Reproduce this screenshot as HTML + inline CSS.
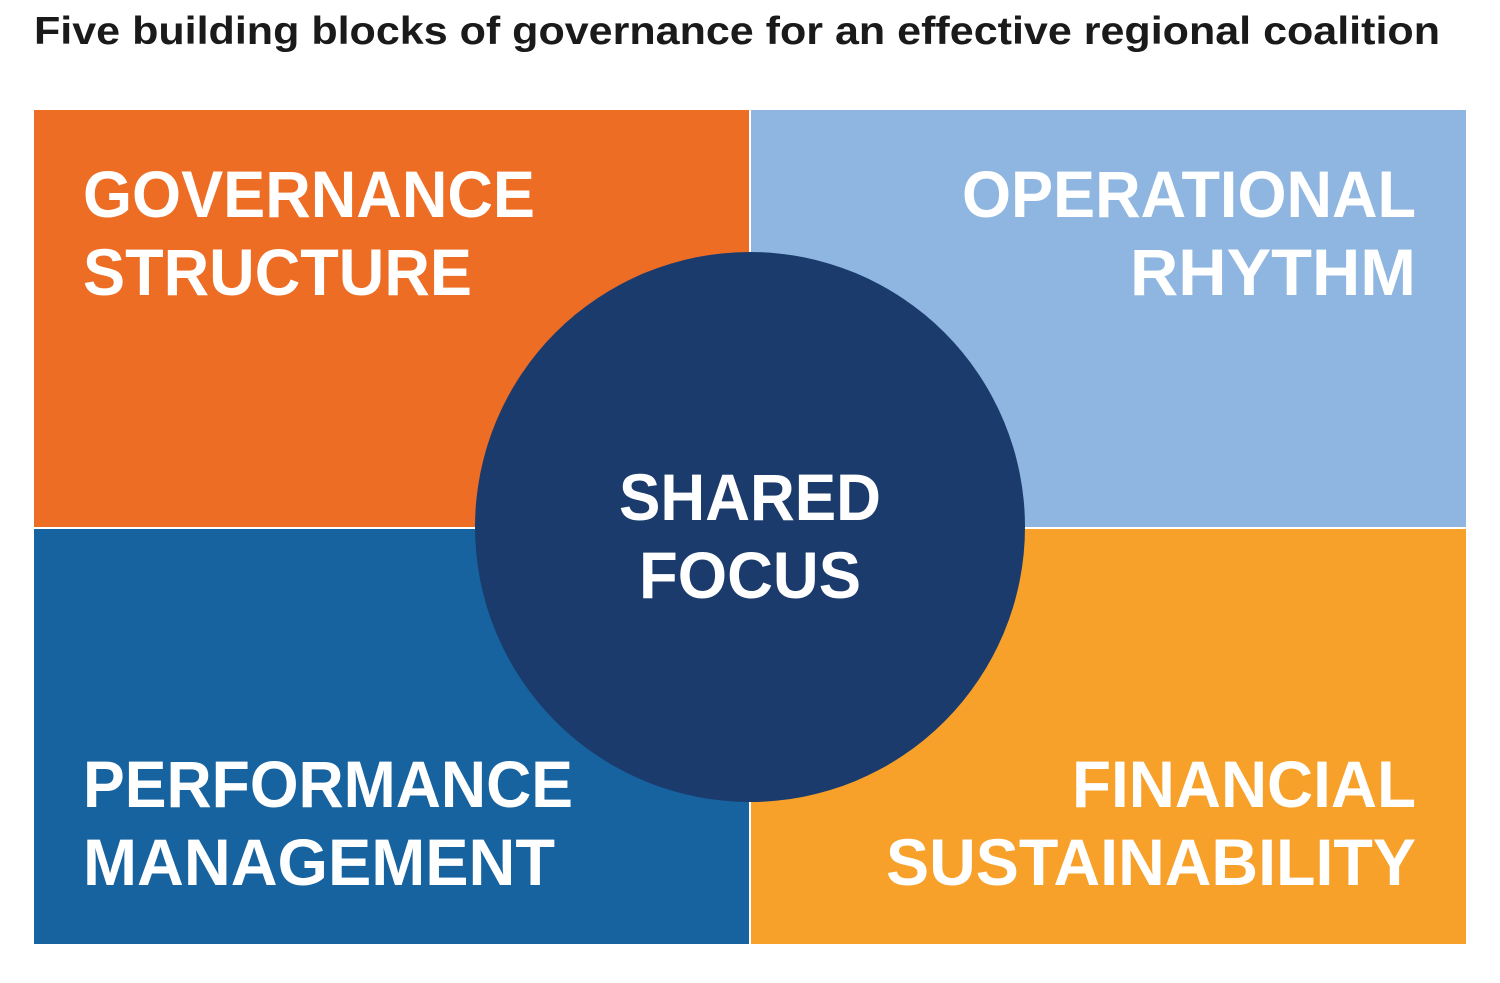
<!DOCTYPE html>
<html><head><meta charset="utf-8"><style>
html,body{margin:0;padding:0;background:#fff;}
svg{display:block}
text{font-family:"Liberation Sans",Arial,sans-serif;}
</style></head><body>
<svg width="1500" height="983" viewBox="0 0 1500 983" xmlns="http://www.w3.org/2000/svg">
<rect width="1500" height="983" fill="#fff"/>
<text x="34" y="44" font-size="39" font-weight="bold" fill="#1a1a1a" textLength="1406" lengthAdjust="spacingAndGlyphs">Five building blocks of governance for an effective regional coalition</text>
<rect x="34" y="110" width="715" height="417" fill="#EE6D25"/>
<rect x="751" y="110" width="715" height="417" fill="#8FB6E1"/>
<rect x="34" y="529" width="715" height="415" fill="#1663A0"/>
<rect x="751" y="529" width="715" height="415" fill="#F7A12A"/>
<circle cx="750" cy="527" r="275" fill="#1B3B6D"/>
<g fill="#fff" font-weight="bold" font-size="66">
<text x="83" y="217" textLength="452" lengthAdjust="spacingAndGlyphs">GOVERNANCE</text>
<text x="83" y="295" textLength="389" lengthAdjust="spacingAndGlyphs">STRUCTURE</text>
<text x="1416" y="217" text-anchor="end" textLength="454" lengthAdjust="spacingAndGlyphs">OPERATIONAL</text>
<text x="1416" y="295" text-anchor="end" textLength="286" lengthAdjust="spacingAndGlyphs">RHYTHM</text>
<text x="83" y="807" textLength="490" lengthAdjust="spacingAndGlyphs">PERFORMANCE</text>
<text x="83" y="885" textLength="472" lengthAdjust="spacingAndGlyphs">MANAGEMENT</text>
<text x="1416" y="807" text-anchor="end" textLength="344" lengthAdjust="spacingAndGlyphs">FINANCIAL</text>
<text x="1416" y="885" text-anchor="end" textLength="530" lengthAdjust="spacingAndGlyphs">SUSTAINABILITY</text>
<text x="750" y="520" text-anchor="middle" textLength="262" lengthAdjust="spacingAndGlyphs">SHARED</text>
<text x="750" y="598" text-anchor="middle" textLength="222" lengthAdjust="spacingAndGlyphs">FOCUS</text>
</g>
</svg>
</body></html>
